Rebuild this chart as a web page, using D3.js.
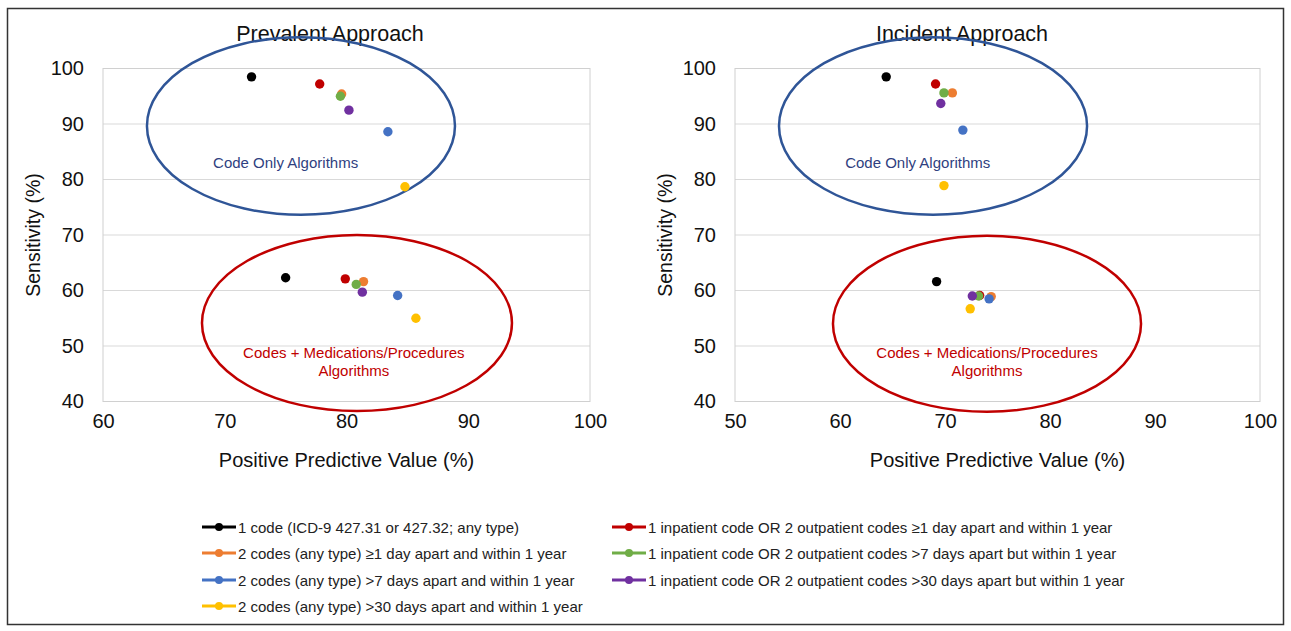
<!DOCTYPE html>
<html>
  <head>
    <meta charset="utf-8">
    <title>Prevalent vs Incident approach</title>
    <style>
      body { margin: 0; background: #fff; }
      text { font-family: "Liberation Sans", Arial, sans-serif; }
    </style>
  </head>
  <body>
    <div id="container"></div>
    <script src="https://cdn.jsdelivr.net/npm/d3@7"></script>
    <script>
      // algorithm names, in legend / drawing order
      var algorithms = [
        "1 code (ICD-9 427.31 or 427.32; any type)",
        "1 inpatient code OR 2 outpatient codes \u22651 day apart and within 1 year",
        "2 codes (any type) \u22651 day apart and within 1 year",
        "1 inpatient code OR 2 outpatient codes >7 days apart but within 1 year",
        "2 codes (any type) >7 days apart and within 1 year",
        "1 inpatient code OR 2 outpatient codes >30 days apart but within 1 year",
        "2 codes (any type) >30 days apart and within 1 year"
      ];
      var colors = ["#000000", "#c00000", "#ed7d31", "#70ad47", "#4472c4", "#7030a0", "#ffc000"];

      // Prevalent approach
      var prevCodePPV  = [72.2, 77.8, 79.6, 79.5, 83.4, 80.2, 84.8];
      var prevCodeSens = [98.5, 97.2, 95.4, 95.0, 88.6, 92.5, 78.7];
      var prevMedPPV   = [75.0, 79.9, 81.4, 80.8, 84.2, 81.3, 85.7];
      var prevMedSens  = [62.3, 62.1, 61.6, 61.1, 59.1, 59.7, 55.0];
      // Incident approach
      var incCodePPV   = [64.4, 69.1, 70.7, 69.9, 71.7, 69.6, 69.9];
      var incCodeSens  = [98.5, 97.2, 95.6, 95.6, 88.9, 93.7, 78.9];
      var incMedPPV    = [69.2, 73.3, 74.4, 73.2, 74.2, 72.6, 72.4];
      var incMedSens   = [61.6, 59.1, 58.9, 59.0, 58.5, 59.0, 56.7];

      var yTicks = [40, 50, 60, 70, 80, 90, 100];
      var xTicksPrev = [60, 70, 80, 90, 100];
      var xTicksInc = [50, 60, 70, 80, 90, 100];

      var W = 1291, H = 631;
      var svg = d3.select("#container").append("svg")
        .attr("width", W).attr("height", H);

      // outer frame
      svg.append("rect")
        .attr("x", 7.5).attr("y", 8.5).attr("width", 1276).attr("height", 616)
        .attr("fill", "none").attr("stroke", "#333").attr("stroke-width", 1.5);

      var panels = [
        { title: "Prevalent Approach", titleX: 330, left: 103, right: 590, xdom: [60, 100], xticks: xTicksPrev,
          code: [prevCodePPV, prevCodeSens], med: [prevMedPPV, prevMedSens],
          codeEll: [76.26, 89.64, 12.65, 16.0], medEll: [80.86, 54.14, 12.73, 15.86],
          codeLbl: [75.0, 83.0], medLbl: [80.6, 47.8] },
        { title: "Incident Approach", titleX: 962, left: 735, right: 1260, xdom: [50, 100], xticks: xTicksInc,
          code: [incCodePPV, incCodeSens], med: [incMedPPV, incMedSens],
          codeEll: [68.86, 89.64, 14.67, 16.0], medEll: [74.0, 54.0, 14.67, 15.86],
          codeLbl: [67.4, 83.0], medLbl: [74.0, 47.8] }
      ];

      var plotTop = 68.5, plotBottom = 401.5;
      var y = d3.scaleLinear().domain([40, 100]).range([plotBottom, plotTop]);

      panels.forEach(function(p) {
        var x = d3.scaleLinear().domain(p.xdom).range([p.left, p.right]);
        var g = svg.append("g");

        // grid
        g.selectAll(".grid").data(yTicks).enter().append("line")
          .attr("x1", p.left).attr("x2", p.right)
          .attr("y1", function(d) { return y(d); }).attr("y2", function(d) { return y(d); })
          .attr("stroke", "#d9d9d9").attr("stroke-width", 1);
        g.append("rect")
          .attr("x", p.left).attr("y", plotTop).attr("width", p.right - p.left).attr("height", plotBottom - plotTop)
          .attr("fill", "none").attr("stroke", "#d0d0d0").attr("stroke-width", 1);

        // axes
        var ya = g.append("g").attr("transform", "translate(" + p.left + ",0)")
          .call(d3.axisLeft(y).tickValues(yTicks).tickSize(0).tickPadding(19));
        var xa = g.append("g").attr("transform", "translate(0," + plotBottom + ")")
          .call(d3.axisBottom(x).tickValues(p.xticks).tickSize(0).tickPadding(12));
        [ya, xa].forEach(function(a) {
          a.select(".domain").remove();
          a.selectAll("text").attr("font-size", 20).attr("fill", "#111")
            .attr("font-family", "Liberation Sans, Arial, sans-serif");
        });

        // titles
        g.append("text").attr("x", p.titleX).attr("y", 40.5).attr("text-anchor", "middle")
          .attr("font-size", 21.5).attr("fill", "#111").text(p.title);
        g.append("text").attr("x", (p.left + p.right) / 2).attr("y", 467).attr("text-anchor", "middle")
          .attr("font-size", 20).attr("fill", "#111").text("Positive Predictive Value (%)");
        g.append("text")
          .attr("transform", "translate(" + (p.left - 63) + "," + ((plotTop + plotBottom) / 2) + ") rotate(-90)")
          .attr("text-anchor", "middle").attr("font-size", 19.5).attr("fill", "#111")
          .text("Sensitivity (%)");

        // ellipses
        var ells = [[p.codeEll, "#2f5597"], [p.medEll, "#c00000"]];
        ells.forEach(function(e) {
          var c = e[0];
          g.append("ellipse")
            .attr("cx", x(c[0])).attr("cy", y(c[1]))
            .attr("rx", x(c[0] + c[2]) - x(c[0])).attr("ry", y(c[1]) - y(c[1] + c[3]))
            .attr("fill", "none").attr("stroke", e[1]).attr("stroke-width", 2.5);
        });

        // annotation text
        g.append("text").attr("x", x(p.codeLbl[0])).attr("y", y(p.codeLbl[1]) + 5)
          .attr("text-anchor", "middle").attr("font-size", 15).attr("fill", "#2f3f80")
          .text("Code Only Algorithms");
        var mt = g.append("text").attr("x", x(p.medLbl[0])).attr("y", y(p.medLbl[1]))
          .attr("text-anchor", "middle").attr("font-size", 15).attr("fill", "#c00000");
        mt.append("tspan").attr("x", x(p.medLbl[0])).attr("dy", 0).text("Codes + Medications/Procedures");
        mt.append("tspan").attr("x", x(p.medLbl[0])).attr("dy", 17.5).text("Algorithms");

        // points
        [p.code, p.med].forEach(function(set) {
          var pts = algorithms.map(function(a, i) { return { ppv: set[0][i], sens: set[1][i], c: colors[i] }; });
          g.selectAll(null).data(pts).enter().append("circle")
            .attr("cx", function(d) { return x(d.ppv); })
            .attr("cy", function(d) { return y(d.sens); })
            .attr("r", 4.7)
            .attr("fill", function(d) { return d.c; });
        });
      });

      // legend, two columns
      var legRows = [527, 553, 580, 606];
      var legCols = [202, 612];
      var lg = svg.append("g");
      algorithms.forEach(function(name, i) {
        var cx = legCols[i % 2], cy = legRows[Math.floor(i / 2)];
        lg.append("line").attr("x1", cx).attr("x2", cx + 34).attr("y1", cy).attr("y2", cy)
          .attr("stroke", colors[i]).attr("stroke-width", 3);
        lg.append("circle").attr("cx", cx + 17).attr("cy", cy).attr("r", 4).attr("fill", colors[i]);
        lg.append("text").attr("x", cx + 36).attr("y", cy + 5.5).attr("font-size", 15).attr("fill", "#222")
          .text(name);
      });
    </script>
  </body>
</html>
